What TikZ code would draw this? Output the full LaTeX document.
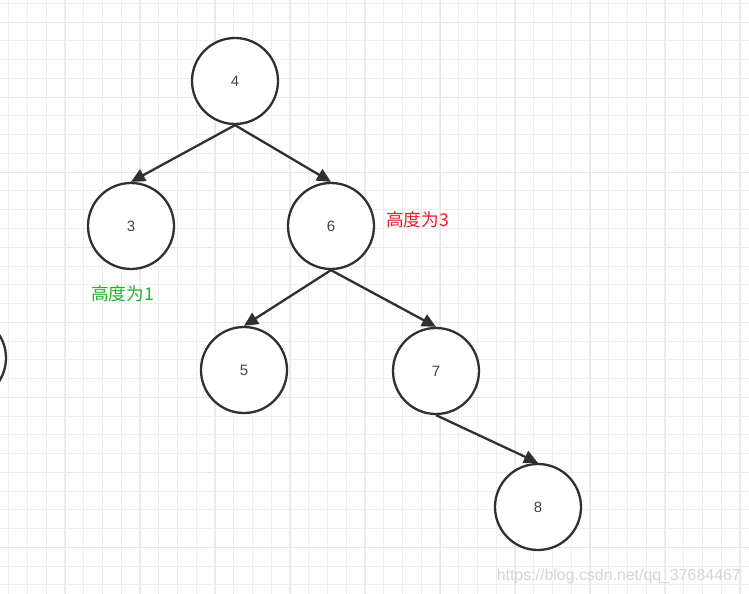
\documentclass[tikz,border=0pt]{standalone}
\usepackage{fontspec}
\setmainfont{Liberation Sans}
\newfontfamily\cjk{Noto Sans CJK SC}
\usetikzlibrary{arrows.meta}
\definecolor{ink}{HTML}{303030}
\definecolor{gminor}{HTML}{EEEEEE}
\definecolor{gmajor}{HTML}{E6E6E6}
\definecolor{hred}{HTML}{F0182E}
\definecolor{hgreen}{HTML}{1DB52C}
\definecolor{wm}{HTML}{D4D4D4}
\tikzset{
  tnode/.style={circle, draw=ink, line width=2.3bp, minimum size=86bp, inner sep=0pt, fill=white,
    font=\fontsize{15bp}{17bp}\selectfont, text=ink!90},
  edge/.style={draw=ink, line width=2.3bp, -{Triangle[length=14bp,width=13bp]}},
  note/.style={font=\cjk\fontsize{17.7bp}{20bp}\selectfont, inner sep=0pt, anchor=west},
  gridline/.style={line width=1bp}
}
\begin{document}
\begin{tikzpicture}[x=1bp,y=-1bp]
\useasboundingbox (0,0) rectangle (749,594);
\begin{scope}
\clip (0,0) rectangle (749,594);
\fill[white] (0,0) rectangle (749,594);
% minor grid
\foreach \i in {0,...,40} {
  \draw[gminor, gridline] ({8.5+18.75*\i},0) -- ({8.5+18.75*\i},594);
}
\foreach \i in {0,...,32} {
  \draw[gminor, gridline] (0,{3.5+18.75*\i}) -- (749,{3.5+18.75*\i});
}
% major grid
\foreach \i in {0,...,10} {
  \draw[gmajor, gridline] ({-9.5+75*\i},0) -- ({-9.5+75*\i},594);
}
\foreach \i in {0,...,8} {
  \draw[gmajor, gridline] (0,{22.5+75*\i}) -- (749,{22.5+75*\i});
}
\node[tnode] (p) at (-37,358) {};
\end{scope}

\node[tnode] (n4) at (235,81) {4};
\node[tnode] (n3) at (131,226) {3};
\node[tnode] (n6) at (331,226) {6};
\node[tnode] (n5) at (244,370) {5};
\node[tnode] (n7) at (436,371) {7};
\node[tnode] (n8) at (538,507) {8};

\draw[edge] (n4.south) -- (n3.north);
\draw[edge] (n4.south) -- (n6.north);
\draw[edge] (n6.south) -- (n5.north);
\draw[edge] (n6.south) -- (n7.north);
\draw[edge] (n7.south) -- (n8.north);

\node[note, text=hred] (h3) at (386,220) {高度为3};
\node[note, text=hgreen] (h1) at (91,294) {高度为1};

\node[anchor=east, inner sep=0pt, text=wm, font=\fontsize{15.9bp}{17bp}\selectfont] (wmk) at (741,576) {https://blog.csdn.net/qq\_37684467};
\end{tikzpicture}
\end{document}
